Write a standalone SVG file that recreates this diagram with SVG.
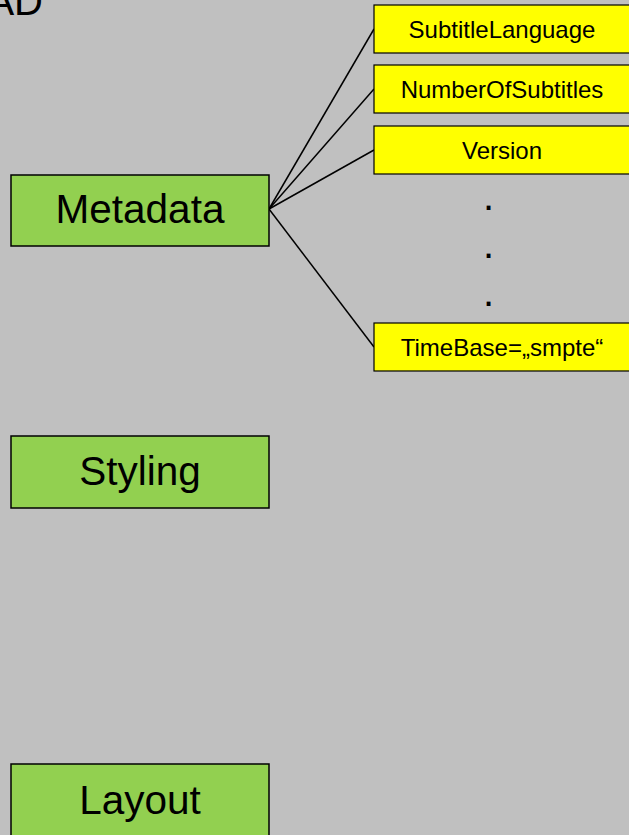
<svg xmlns="http://www.w3.org/2000/svg" width="629" height="835" viewBox="0 0 629 835">
<style>
.bg{fill:#C0C0C0}
.main rect{fill:#92D050;stroke:#000;stroke-width:1.5}
.leaf rect{fill:#FFFF00;stroke:#000;stroke-width:1.2}
text{font-family:"Liberation Sans",Arial,sans-serif;fill:#000}
.main text{font-size:40.5px;text-anchor:middle}
.leaf text{font-size:24px;text-anchor:middle}
.dots text{font-size:40px;text-anchor:middle}
#connectors line{stroke:#000;stroke-width:1.5}
</style>
<rect class="bg" x="0" y="0" width="629" height="835"/>
<text x="43" y="15" font-size="40" text-anchor="end">AD</text>
<g id="connectors">
<line x1="269" y1="209" x2="374" y2="29"/>
<line x1="269" y1="209" x2="374" y2="89"/>
<line x1="269" y1="209" x2="374" y2="150"/>
<line x1="269" y1="209" x2="374" y2="347"/>
</g>
<g id="metadata" class="main"><rect x="11" y="175" width="258" height="71"/><text x="140" y="223">Metadata</text></g>
<g id="styling" class="main"><rect x="11" y="436" width="258" height="72"/><text x="140" y="485">Styling</text></g>
<g id="layout" class="main"><rect x="11" y="764" width="258" height="72"/><text x="140" y="814">Layout</text></g>
<g id="subtitlelanguage" class="leaf"><rect x="374" y="5" width="257" height="48"/><text x="502" y="37.5">SubtitleLanguage</text></g>
<g id="numberofsubtitles" class="leaf"><rect x="374" y="65" width="257" height="48"/><text x="502" y="97.5">NumberOfSubtitles</text></g>
<g id="version" class="leaf"><rect x="374" y="126" width="257" height="48"/><text x="502" y="158.5">Version</text></g>
<g id="timebase" class="leaf"><rect x="374" y="323" width="257" height="48"/><text x="502" y="355.5">TimeBase=„smpte“</text></g>
<g id="dots" class="dots">
<text x="488.5" y="210">.</text>
<text x="488.5" y="258">.</text>
<text x="488.5" y="306">.</text>
</g>
</svg>
